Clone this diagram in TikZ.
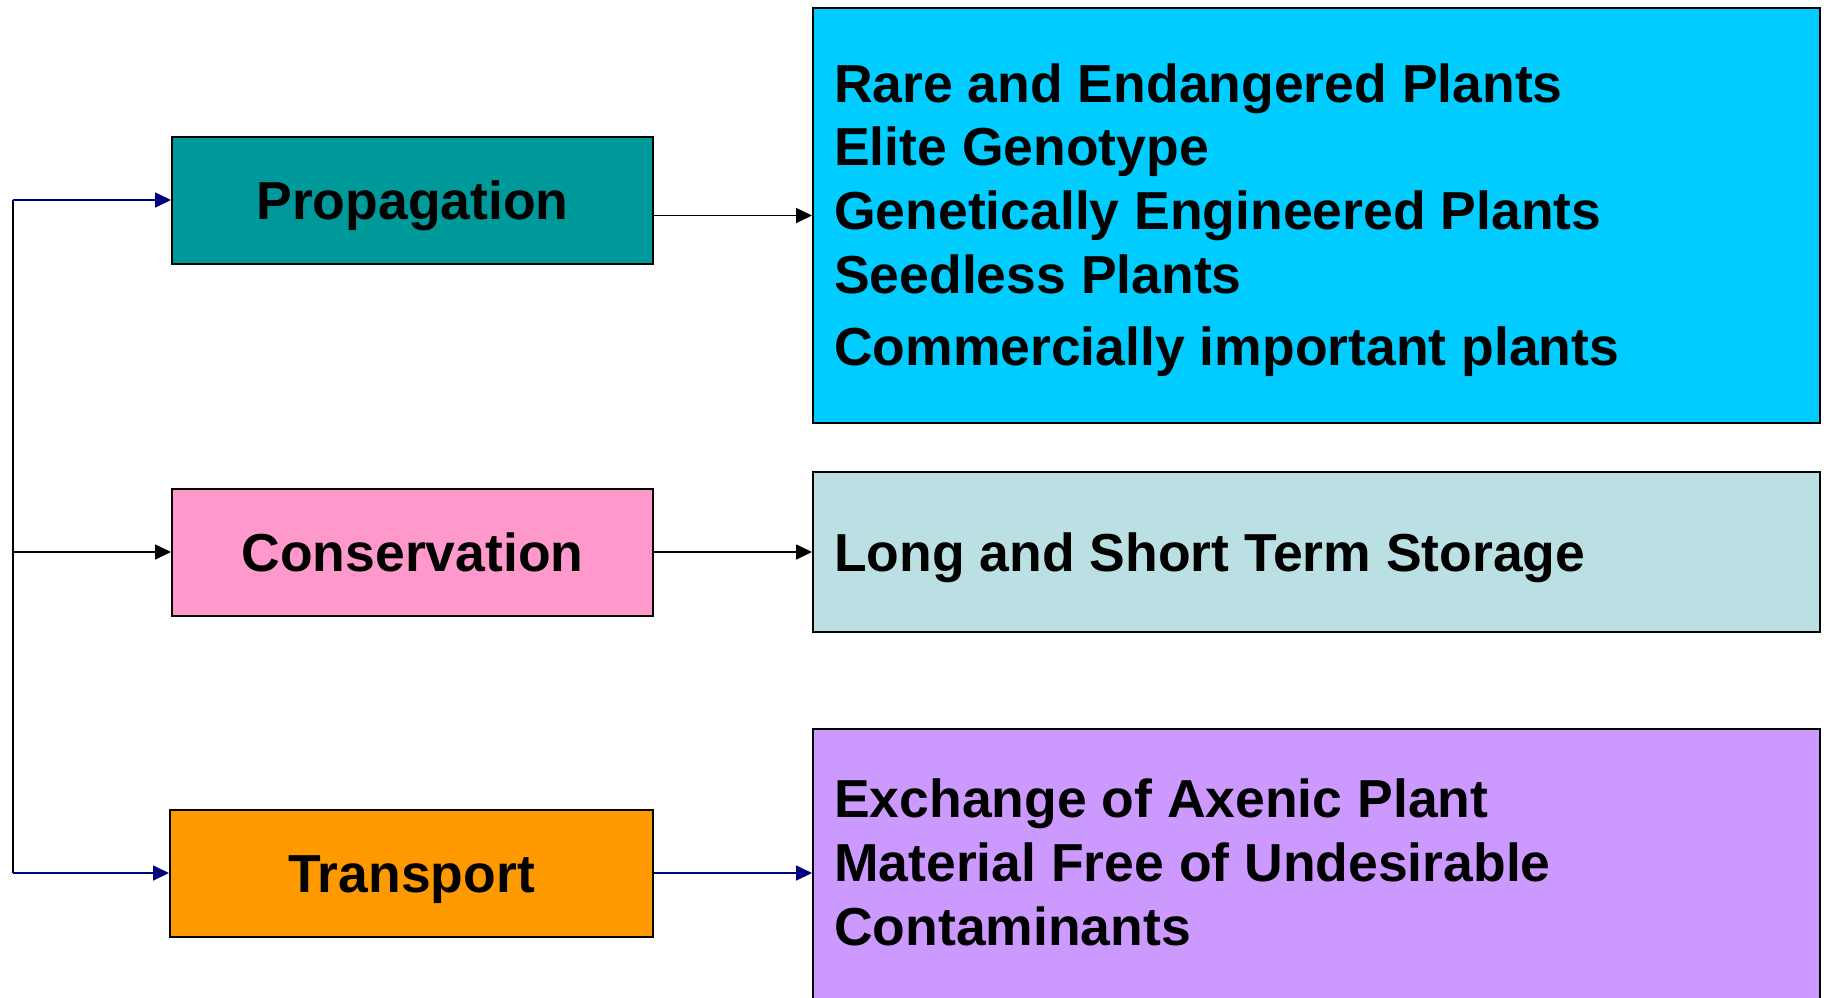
\documentclass[tikz,border=0pt]{standalone}
\usepackage{fontspec}
\setmainfont{Liberation Sans}
\usetikzlibrary{arrows.meta}
\definecolor{cProp}{HTML}{009999}
\definecolor{cCons}{HTML}{FF99CC}
\definecolor{cTrans}{HTML}{FF9900}
\definecolor{cBlue}{HTML}{00CCFF}
\definecolor{cLt}{HTML}{BBE0E3}
\definecolor{cPurp}{HTML}{CC99FF}
\definecolor{cNavy}{HTML}{000080}
\begin{document}
\begin{tikzpicture}[x=1pt,y=-1pt,
  box/.style={draw=black,line width=2pt,inner sep=0pt,text height=38pt,text depth=0pt,
    font=\fontsize{53.5}{64}\selectfont\bfseries},
  panel/.style={draw=black,line width=2pt,inner sep=0pt,minimum width=1007pt},
  conn/.style={line width=1.7pt,-{Triangle[length=16pt,width=15pt]}},
  txt/.style={anchor=base west,inner sep=0pt,font=\fontsize{53.5}{64}\selectfont\bfseries}]
\useasboundingbox (0,0) rectangle (1827,997);
\clip (0,0) rectangle (1827,997);
% left boxes
\node[box,fill=cProp,minimum width=481pt,minimum height=127pt] (prop) at (412.5,200) {Propagation};
\node[box,fill=cCons,minimum width=481pt,minimum height=127pt] (cons) at (412.5,552) {Conservation};
\node[box,fill=cTrans,minimum width=483pt,minimum height=127pt] (trans) at (411.5,873) {Transport};
% right panels
\node[panel,fill=cBlue,minimum height=415pt] (blue) at (1316.5,215.5) {};
\node[panel,fill=cLt,minimum height=160pt] (lt) at (1316.5,552) {};
\node[panel,fill=cPurp,minimum height=288pt] (purp) at (1316.5,873) {};
% panel texts
\node[txt] (b1) at (834,102) {Rare and Endangered Plants};
\node[txt] (b2) at (834,165) {Elite Genotype};
\node[txt] (b3) at (834,229) {Genetically Engineered Plants};
\node[txt] (b4) at (834,293) {Seedless Plants};
\node[txt] (b5) at (834,365) {Commercially important plants};
\node[txt] (l1) at (834,571) {Long and Short Term Storage};
\node[txt] (p1) at (834,817) {Exchange of Axenic Plant};
\node[txt] (p2) at (834,881) {Material Free of Undesirable};
\node[txt] (p3) at (834,945) {Contaminants};
% connectors
\coordinate (j1) at (13,200);
\coordinate (j2) at (13,552);
\coordinate (j3) at (13,873);
\draw[line width=1.7pt] (j1) -- (j3);
\draw[conn,cNavy] (j1) -- (prop.west);
\draw[conn] (j2) -- (cons.west);
\draw[conn,cNavy] (j3) -- (trans.west);
\draw[conn] (prop.east |- blue.west) -- (blue.west);
\draw[conn] (cons.east) -- (lt.west);
\draw[conn,cNavy] (trans.east) -- (purp.west);
\end{tikzpicture}
\end{document}
